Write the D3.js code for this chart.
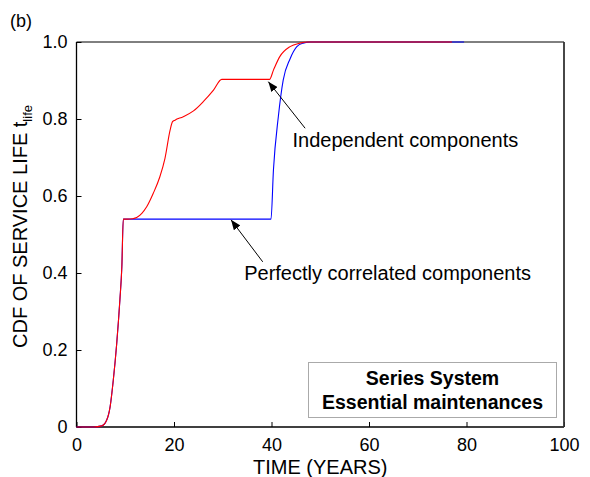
<!DOCTYPE html>
<html>
<head>
<meta charset="utf-8">
<script src="https://cdn.jsdelivr.net/npm/d3@7"></script>
<style>
  html, body { margin: 0; padding: 0; background: #fff; }
  svg { display: block; font-family: "Liberation Sans", Arial, Helvetica, sans-serif; }
</style>
</head>
<body>
<svg id="chart" width="590" height="477"></svg>
<script>
// Time axis (years) and CDF values for the two component assumptions
const timeIndep = [0, 3.4, 5.2, 6.2, 6.9, 7.55, 8.25, 8.9, 9.3, 9.6, 10.5, 11.5, 12.35, 13.4, 14.4, 15.75, 17.1, 18.15, 19.2, 19.7, 20.2, 21.9, 24.0, 26.0, 28.1, 29.8, 39.6, 40.4, 41.7, 43.8, 45.8, 47.5, 77];
const cdfIndep  = [0, 0, 0.003, 0.018, 0.053, 0.122, 0.217, 0.33, 0.416, 0.54, 0.540, 0.541, 0.544, 0.555, 0.572, 0.607, 0.650, 0.698, 0.771, 0.793, 0.797, 0.806, 0.821, 0.845, 0.875, 0.903, 0.903, 0.927, 0.962, 0.988, 0.997, 1.0, 1.0];

const timeCorr = [0, 3.4, 5.2, 6.2, 6.9, 7.55, 8.25, 8.9, 9.3, 9.6, 39.9, 40.4, 41.4, 42.4, 43.8, 45.2, 46.5, 48, 79.5];
const cdfCorr  = [0, 0, 0.003, 0.018, 0.053, 0.122, 0.217, 0.33, 0.416, 0.54, 0.54, 0.668, 0.806, 0.901, 0.956, 0.988, 0.997, 1.0, 1.0];

const xTicks = [0, 20, 40, 60, 80, 100];
const yTicks = [0, 0.2, 0.4, 0.6, 0.8, 1.0];
const yTickLabels = ["0", "0.2", "0.4", "0.6", "0.8", "1.0"];

// Annotations: arrow tip, arrow tail and label anchor, in data units
const annotations = [
  { text: "Independent components", tip: [39.35, 0.897], tail: [46.9, 0.776], label: [44.3, 0.727] },
  { text: "Perfectly correlated components", tip: [31.7, 0.538], tail: [38.2, 0.429], label: [34.4, 0.382] }
];

const legendLines = ["Series System", "Essential maintenances"];

const svg = d3.select("#chart");
const m = { left: 76.5, top: 42, right: 564, bottom: 427 };

const x = d3.scaleLinear().domain([0, 100]).range([m.left, m.right]);
const y = d3.scaleLinear().domain([0, 1]).range([m.bottom, m.top]);

// Bottom axis
const xAxis = d3.axisBottom(x).tickValues(xTicks).tickSizeInner(-5).tickSizeOuter(0).tickPadding(11);
const gx = svg.append("g").attr("transform", `translate(0,${m.bottom})`).call(xAxis);
gx.select(".domain").remove();
gx.selectAll(".tick line").attr("stroke", "#000");
gx.selectAll(".tick text").attr("font-size", 18).attr("fill", "#000").attr("font-family", null);

// Left axis
const yAxis = d3.axisLeft(y).tickValues(yTicks).tickFormat((d, i) => yTickLabels[i])
  .tickSizeInner(-5).tickSizeOuter(0).tickPadding(9);
const gy = svg.append("g").attr("transform", `translate(${m.left},0)`).call(yAxis);
gy.select(".domain").remove();
gy.selectAll(".tick line").attr("stroke", "#000");
gy.selectAll(".tick text").attr("font-size", 18).attr("fill", "#000").attr("font-family", null);

// Plot frame
svg.append("line").attr("x1", m.left).attr("x2", m.right).attr("y1", m.bottom).attr("y2", m.bottom)
  .attr("stroke", "#000").attr("stroke-width", 1.3);
svg.append("line").attr("x1", m.left).attr("x2", m.left).attr("y1", m.top).attr("y2", m.bottom)
  .attr("stroke", "#000").attr("stroke-width", 1.3);
svg.append("line").attr("x1", m.left).attr("x2", m.right).attr("y1", m.top).attr("y2", m.top)
  .attr("stroke", "#000").attr("stroke-width", 1);
svg.append("line").attr("x1", m.right).attr("x2", m.right).attr("y1", m.top).attr("y2", m.bottom)
  .attr("stroke", "#333").attr("stroke-width", 1.8);

// CDF curves
const line = d3.line().x(d => x(d[0])).y(d => y(d[1])).curve(d3.curveMonotoneX);
const corrPts = timeCorr.map((t, i) => [t, cdfCorr[i]]);
const indepPts = timeIndep.map((t, i) => [t, cdfIndep[i]]);

svg.append("path").datum(corrPts).attr("d", line)
  .attr("fill", "none").attr("stroke", "#0000ff").attr("stroke-width", 1.1);
svg.append("path").datum(indepPts).attr("d", line)
  .attr("fill", "none").attr("stroke", "#ff0000").attr("stroke-width", 1.1);

// Arrow annotations
const defs = svg.append("defs");
defs.append("marker").attr("id", "arrowhead")
  .attr("viewBox", "0 0 10 8").attr("refX", 10).attr("refY", 4)
  .attr("markerWidth", 10).attr("markerHeight", 8).attr("markerUnits", "userSpaceOnUse")
  .attr("orient", "auto")
  .append("path").attr("d", "M0,0 L10,4 L0,8 Z").attr("fill", "#000");

annotations.forEach(a => {
  svg.append("line")
    .attr("x1", x(a.tail[0])).attr("y1", y(a.tail[1]))
    .attr("x2", x(a.tip[0])).attr("y2", y(a.tip[1]))
    .attr("stroke", "#000").attr("stroke-width", 1)
    .attr("marker-end", "url(#arrowhead)");
  svg.append("text")
    .attr("x", x(a.label[0])).attr("y", y(a.label[1]))
    .attr("font-size", 20).attr("fill", "#000")
    .text(a.text);
});

// Legend box
const lg = svg.append("g");
lg.append("rect").attr("x", 308.5).attr("y", 362.5).attr("width", 248).attr("height", 55)
  .attr("fill", "#fff").attr("stroke", "#aaa").attr("stroke-width", 1);
legendLines.forEach((t, i) => {
  lg.append("text").attr("x", 432.5).attr("y", 384.5 + i * 24.5)
    .attr("text-anchor", "middle").attr("font-size", 19.5).attr("font-weight", "bold")
    .attr("fill", "#000").text(t);
});

// Axis titles
svg.append("text").attr("x", (m.left + m.right) / 2).attr("y", 474)
  .attr("text-anchor", "middle").attr("font-size", 20).attr("fill", "#000")
  .text("TIME (YEARS)");

const yl = svg.append("text")
  .attr("transform", `translate(27,${(m.top + m.bottom) / 2 - 8}) rotate(-90)`)
  .attr("text-anchor", "middle").attr("font-size", 20).attr("fill", "#000");
yl.append("tspan").text("CDF OF SERVICE LIFE t");
yl.append("tspan").attr("font-size", 13).attr("dy", 5).text("life");

// Panel tag
svg.append("text").attr("x", 10).attr("y", 27).attr("font-size", 18).attr("fill", "#000").text("(b)");
</script>
</body>
</html>
